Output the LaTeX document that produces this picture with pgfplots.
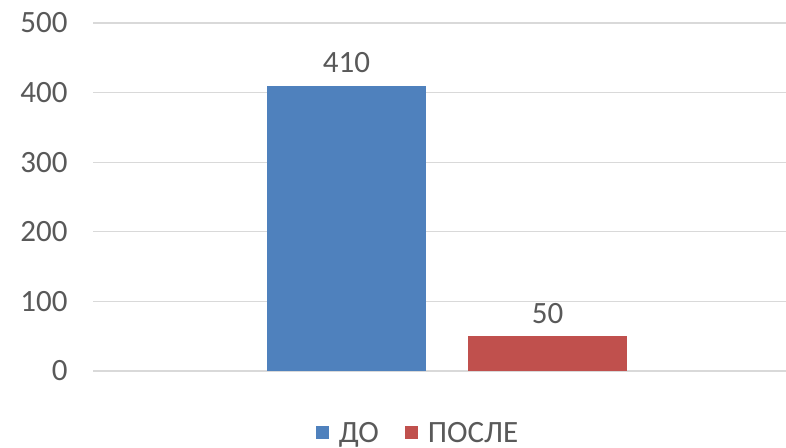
\documentclass[border=0pt]{standalone}
\usepackage{fontspec}
\setmainfont{Carlito}
\usepackage{pgfplots}
\pgfplotsset{compat=1.18}
\definecolor{barblue}{HTML}{4F81BD}
\definecolor{barred}{HTML}{C0504D}
\definecolor{gridgray}{HTML}{D9D9D9}
\definecolor{txtgray}{HTML}{595959}
\begin{document}
\begin{tikzpicture}
\path[use as bounding box] (0,0) rectangle (786bp,448bp);
\begin{axis}[
  at={(93bp,77bp)}, anchor=south west,
  scale only axis,
  width=693bp, height=348bp,
  xmin=0, xmax=693,
  ymin=0, ymax=500,
  ytick={0,100,200,300,400,500},
  xtick=\empty,
  axis line style={draw=none},
  major tick style={draw=none},
  ymajorgrids,
  grid style={gridgray, line width=1.3bp},
  font=\fontsize{31bp}{36bp}\selectfont,
  /pgf/number format/assume math mode=true,
  ticklabel style={text=txtgray},
  yticklabel style={xshift=-22bp},
  clip=false,
  legend style={at={(0.469,-0.178)}, anchor=center, draw=none, fill=none,
    legend columns=2, text=txtgray, inner sep=0pt,
    /tikz/every odd column/.append style={column sep=8bp},
    /tikz/every even column/.append style={column sep=24bp},
    font=\fontsize{31bp}{36bp}\selectfont},
  legend cell align=left,
  nodes near coords,
  every node near coord/.append style={text=txtgray, yshift=9bp},
]
\addplot[ybar, bar width=159, bar shift=0, fill=barblue, draw=none,
  legend image code/.code={\fill[barblue] (0bp,-6.5bp) rectangle (13bp,6.5bp);}]
  coordinates {(253.5,410)};
\addlegendentry{ДО}
\addplot[ybar, bar width=159, bar shift=0, fill=barred, draw=none,
  legend image code/.code={\fill[barred] (0bp,-6.5bp) rectangle (13bp,6.5bp);}]
  coordinates {(454.5,50)};
\addlegendentry{ПОСЛЕ}
\end{axis}
\end{tikzpicture}
\end{document}
